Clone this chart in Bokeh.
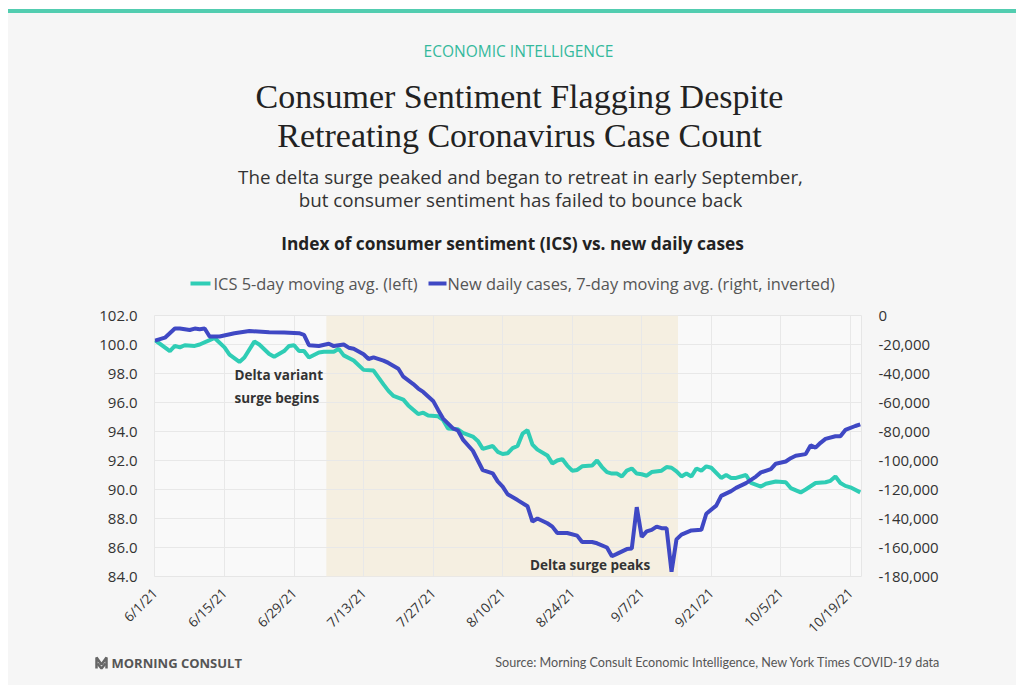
from datetime import datetime
import calendar
from math import pi

from bokeh.plotting import figure
from bokeh.models import (Range1d, LinearAxis, FixedTicker, NumeralTickFormatter,
                          BoxAnnotation, Label, Div, ColumnDataSource)
from bokeh.layouts import column, row
from bokeh.core.properties import value
from bokeh.embed import file_html
from bokeh.resources import INLINE

YEAR = 2021

# ICS 5-day moving average (left axis)
ics_dates = ["6/1", "6/4", "6/5", "6/6", "6/7", "6/9", "6/10", "6/12", "6/13", "6/15",
             "6/16", "6/18", "6/19", "6/21", "6/22", "6/24", "6/25", "6/27", "6/28", "6/29",
             "6/30", "7/1", "7/2", "7/4", "7/5", "7/7", "7/8", "7/9", "7/11", "7/13",
             "7/15", "7/17", "7/18", "7/19", "7/21", "7/22", "7/24", "7/25", "7/26", "7/28",
             "7/29", "7/30", "8/1", "8/2", "8/4", "8/5", "8/6", "8/8", "8/9", "8/10",
             "8/11", "8/12", "8/13", "8/14", "8/15", "8/16", "8/17", "8/19", "8/20", "8/21",
             "8/22", "8/23", "8/24", "8/25", "8/26", "8/28", "8/29", "8/30", "8/31", "9/1",
             "9/2", "9/3", "9/4", "9/5", "9/6", "9/7", "9/8", "9/9", "9/11", "9/12",
             "9/13", "9/14", "9/15", "9/16", "9/17", "9/18", "9/19", "9/20", "9/21", "9/23",
             "9/24", "9/25", "9/26", "9/28", "9/29", "10/1", "10/2", "10/4", "10/6", "10/7",
             "10/9", "10/10", "10/12", "10/14", "10/15", "10/16", "10/17", "10/18", "10/19", "10/21"]
ics_values = [100.3, 99.55, 99.9, 99.8, 99.95, 99.9, 100.0, 100.3, 100.45, 99.8,
              99.3, 98.8, 99.1, 100.2, 100.0, 99.35, 99.15, 99.55, 99.9, 99.95,
              99.55, 99.55, 99.1, 99.45, 99.5, 99.5, 99.7, 99.25, 98.9, 98.25,
              98.2, 97.25, 96.8, 96.45, 96.2, 95.8, 95.2, 95.3, 95.1, 95.05,
              94.8, 94.2, 94.15, 93.9, 93.65, 93.35, 92.8, 93.0, 92.6, 92.45,
              92.5, 92.85, 93.0, 93.85, 94.1, 93.1, 92.75, 92.35, 91.8, 92.0,
              92.1, 91.65, 91.3, 91.35, 91.6, 91.65, 92.0, 91.55, 91.2, 91.1,
              91.1, 90.9, 91.3, 91.45, 91.1, 91.05, 90.95, 91.2, 91.3, 91.55,
              91.5, 91.25, 90.9, 91.1, 90.9, 91.45, 91.3, 91.6, 91.5, 90.8,
              91.0, 90.8, 90.8, 91.0, 90.45, 90.2, 90.4, 90.55, 90.5, 90.1,
              89.8, 90.0, 90.45, 90.5, 90.6, 90.9, 90.45, 90.25, 90.15, 89.8]

# New daily cases, 7-day moving average (right axis, inverted)
case_dates = ["6/1", "6/3", "6/5", "6/6", "6/8", "6/9", "6/10", "6/11", "6/12", "6/14",
              "6/17", "6/20", "6/24", "6/27", "6/30", "7/1", "7/2", "7/4", "7/6", "7/7",
              "7/9", "7/10", "7/11", "7/13", "7/14", "7/15", "7/17", "7/18", "7/20", "7/21",
              "7/23", "7/24", "7/25", "7/27", "7/28", "7/29", "7/31", "8/1", "8/2", "8/4",
              "8/5", "8/6", "8/8", "8/9", "8/10", "8/11", "8/13", "8/15", "8/16", "8/17",
              "8/19", "8/20", "8/21", "8/23", "8/25", "8/26", "8/28", "8/29", "8/31", "9/1",
              "9/2", "9/4", "9/5", "9/6", "9/7", "9/8", "9/9", "9/10", "9/11", "9/12",
              "9/13", "9/14", "9/15", "9/17", "9/19", "9/20", "9/22", "9/23", "9/25", "9/26",
              "9/28", "9/30", "10/1", "10/3", "10/4", "10/6", "10/7", "10/8", "10/10", "10/11",
              "10/12", "10/13", "10/14", "10/16", "10/17", "10/18", "10/20", "10/21"]
case_values = [17300, 15300, 9000, 9000, 10000, 9000, 9500, 9000, 14500, 14500,
               12200, 10700, 11500, 11700, 12200, 13300, 20500, 21000, 19500, 21100,
               20000, 22200, 22900, 26700, 30000, 28900, 31100, 32700, 36700, 42200,
               47300, 50400, 52700, 58900, 65100, 71100, 77800, 79300, 85600, 93300,
               100000, 106700, 108900, 114400, 118000, 123300, 127300, 131500, 142200, 140000,
               143300, 145600, 150000, 150000, 151800, 156200, 156200, 157100, 160000, 166000,
               164400, 161100, 160700, 132200, 152700, 148900, 147800, 145600, 146700, 146700,
               176700, 154400, 151100, 148200, 147800, 136700, 131100, 124400, 121100, 118900,
               115600, 111100, 108200, 106000, 102200, 100700, 98400, 96700, 95600, 89600,
               91100, 87800, 85100, 83300, 83300, 78900, 76200, 75100]

x_tick_labels = ["6/1/21", "6/15/21", "6/29/21", "7/13/21", "7/27/21", "8/10/21",
                 "8/24/21", "9/7/21", "9/21/21", "10/5/21", "10/19/21"]
left_ticks = [84, 86, 88, 90, 92, 94, 96, 98, 100, 102]
right_ticks = [-180000, -160000, -140000, -120000, -100000, -80000, -60000,
               -40000, -20000, 0]
shade_start, shade_end = "7/5", "9/14"

kicker = "ECONOMIC INTELLIGENCE"
title_lines = ["Consumer Sentiment Flagging Despite", "Retreating Coronavirus Case Count"]
subtitle_lines = ["The delta surge peaked and began to retreat in early September,",
                  "but consumer sentiment has failed to bounce back"]
chart_title = "Index of consumer sentiment (ICS) vs. new daily cases"
legend_labels = ["ICS 5-day moving avg. (left)",
                 "New daily cases, 7-day moving avg. (right, inverted)"]
brand = "MORNING CONSULT"
source_note = "Source: Morning Consult Economic Intelligence, New York Times COVID-19 data"

TEAL = "#2fcdb5"
BLUE = "#3f48c4"
CARD = "#f6f6f6"
SANS = "Open Sans"
DAY = 86400000
W = 1008


def to_dt(s):
    m, d = s.split("/")[:2]
    return datetime(YEAR, int(m), int(d))


def to_ms(s):
    return calendar.timegm(to_dt(s).timetuple()) * 1000


def blank_fig(top, bottom):
    f = figure(width=W, height=bottom - top, x_range=Range1d(8, 8 + W),
               y_range=Range1d(bottom, top), output_backend="svg",
               toolbar_location=None, x_axis_location=None, y_axis_location=None,
               min_border=0, min_border_left=0, min_border_right=0,
               min_border_top=0, min_border_bottom=0,
               background_fill_color=CARD, border_fill_color=CARD,
               outline_line_color=None)
    f.grid.visible = False
    return f


# ---------------- header ----------------
head = blank_fig(13, 300)
head.text(x=[518], y=[50], text=[kicker], text_font=value(SANS), text_font_size="15.5px",
          text_color="#34b99c", text_align="center", text_baseline="middle")
head.text(x=[519, 519], y=[96, 135], text=title_lines, text_font=value("Liberation Serif"),
          text_font_size="34px", text_color="#222222", text_align="center",
          text_baseline="middle")
head.text(x=[520, 520], y=[176, 199], text=subtitle_lines, text_font=value(SANS),
          text_font_size="18.8px", text_color="#333333", text_align="center",
          text_baseline="middle")
head.text(x=[512], y=[243], text=[chart_title], text_font=value(SANS),
          text_font_style="bold", text_font_size="17.3px", text_color="#222222",
          text_align="center", text_baseline="middle")
# legend keys and labels
head.segment(x0=[190, 428], x1=[210, 446], y0=[283, 283], y1=[283, 283],
             line_color=[TEAL, BLUE], line_width=4)
head.text(x=[213, 447], y=[283, 283], text=legend_labels, text_font=value(SANS),
          text_font_size="16.4px", text_color="#555555", text_align="left",
          text_baseline="middle")

# ---------------- main chart ----------------
ics_src = ColumnDataSource(dict(x=[to_dt(s) for s in ics_dates], y=ics_values))
case_src = ColumnDataSource(dict(x=[to_dt(s) for s in case_dates],
                                 y=[-v for v in case_values]))

p = figure(width=W, height=345, x_axis_type="datetime",
           x_range=Range1d(to_ms("6/1") - 0.1 * DAY, to_ms("10/21") + 0.25 * DAY),
           y_range=Range1d(84, 102),
           output_backend="svg", toolbar_location=None,
           min_border_left=146, min_border_right=155,
           min_border_top=15, min_border_bottom=60,
           background_fill_color="#f9f9f9", border_fill_color=CARD,
           outline_line_color="#e6e6e6")
p.extra_y_ranges = {"cases": Range1d(-180000, 0)}

p.add_layout(BoxAnnotation(left=to_ms(shade_start) + 0.5 * DAY, right=to_ms(shade_end) + 0.3 * DAY,
                           fill_color="#f5efe1", fill_alpha=1.0, line_color=None,
                           level="image"))

p.line("x", "y", source=ics_src, line_color=TEAL, line_width=4)
p.line("x", "y", source=case_src, y_range_name="cases", line_color=BLUE, line_width=4)

tick_ms = [to_ms(s) for s in x_tick_labels]
p.xaxis.ticker = FixedTicker(ticks=tick_ms)
p.xaxis.major_label_overrides = {t: lab for t, lab in zip(tick_ms, x_tick_labels)}
p.xaxis.major_label_orientation = pi / 4
p.yaxis.ticker = FixedTicker(ticks=left_ticks)
p.yaxis.formatter = NumeralTickFormatter(format="0.0")

ax_r = LinearAxis(y_range_name="cases", ticker=FixedTicker(ticks=right_ticks),
                  formatter=NumeralTickFormatter(format="0,0"))
p.add_layout(ax_r, "right")

for ax in p.axis:
    ax.axis_line_color = None
    ax.major_tick_line_color = None
    ax.minor_tick_line_color = None
    ax.major_label_text_font = SANS
    ax.major_label_text_font_size = "15px"
    ax.major_label_text_color = "#333333"
    ax.major_label_standoff = 11
p.xaxis.major_label_text_font_size = "13.5px"
p.xaxis.major_label_standoff = 8

p.xgrid.grid_line_color = "#e8e8e8"
p.ygrid.grid_line_color = "#e8e8e8"

p.add_layout(Label(x=to_ms("6/17"), y=98.55, text="Delta variant\nsurge begins",
                   text_font=SANS, text_font_style="bold", text_font_size="13.5px",
                   text_color="#333333", text_baseline="top", text_align="left",
                   text_line_height=1.3))
p.add_layout(Label(x=to_ms("8/27") + 0.6 * DAY, y=84.8, text="Delta surge peaks",
                   text_font=SANS, text_font_style="bold", text_font_size="13.5px",
                   text_color="#333333", text_baseline="middle", text_align="center"))

# ---------------- footer ----------------
foot = blank_fig(645, 685)
foot.multi_line(xs=[[96, 96, 101, 106, 106], [97, 101, 105]],
                ys=[[668, 657, 664, 657, 668], [663, 668, 663]],
                line_color="#666666", line_width=2.5)
foot.text(x=[111], y=[662], text=[brand], text_font=value(SANS), text_font_style="bold",
          text_font_size="13px", text_color="#555555", text_align="left",
          text_baseline="middle")
foot.text(x=[940], y=[662], text=[source_note], text_font=value("Lato"),
          text_font_size="12.6px", text_color="#555555", text_align="right",
          text_baseline="middle")

bar = Div(text="", width=W, height=4, margin=0, styles={"background-color": "#52cdb0"})

layout = column(bar, row(head), row(p), row(foot), spacing=0, margin=(9, 0, 0, 8),
                styles={"background-color": CARD})
open("out.html", "w").write(file_html(layout, INLINE))
